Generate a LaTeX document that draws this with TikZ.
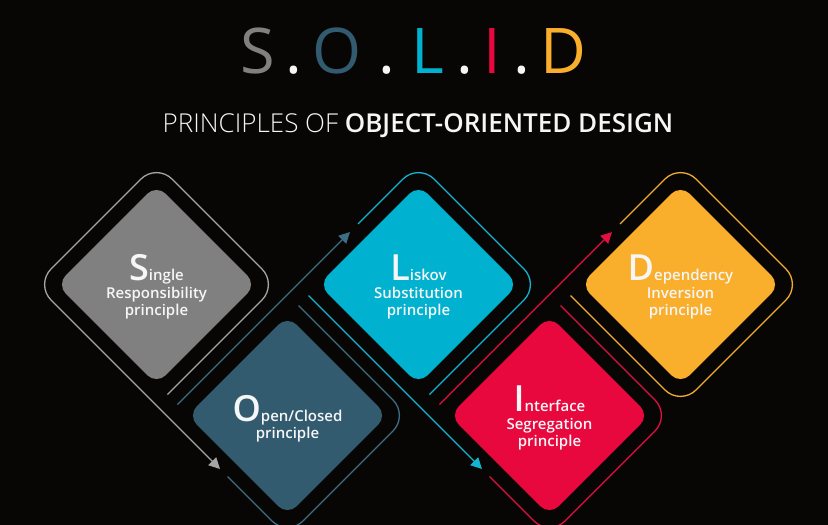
\documentclass[tikz,border=0pt]{standalone}
\usepackage{fontspec}
\setmainfont{Open Sans}
\newfontfamily\oslight{Open Sans Light}
\newfontfamily\ossemi{Open Sans Semibold}
\usetikzlibrary{arrows.meta,calc,shapes.geometric}

% palette
\definecolor{bg}{RGB}{8,5,5}
\definecolor{cS}{RGB}{128,128,128}
\definecolor{cO}{RGB}{50,91,111}
\definecolor{cL}{RGB}{0,178,207}
\definecolor{cI}{RGB}{232,8,62}
\definecolor{cD}{RGB}{249,174,44}
\definecolor{lS}{RGB}{165,165,165}
\definecolor{lO}{RGB}{62,110,132}
\definecolor{lL}{RGB}{20,180,208}
\definecolor{lI}{RGB}{226,16,64}
\definecolor{lD}{RGB}{243,173,45}
\definecolor{ink}{RGB}{246,246,246}

% corner points of the rounded rim around a tile
\newcommand\rimpts[3]{%
  \coordinate (#1-l) at (#2-121,#3);
  \coordinate (#1-t) at (#2,#3-121);
  \coordinate (#1-r) at (#2+121,#3);
  \coordinate (#1-b) at (#2,#3+121);}
\newcommand\initial[1]{{\fontsize{36}{36}\selectfont #1}}

\begin{document}
\begin{tikzpicture}[x=1pt,y=-1pt,
  tile/.style={diamond, aspect=1, minimum width=200pt, minimum height=200pt,
    inner sep=0pt, rounded corners=13pt, draw=none},
  rim/.style={line width=1.3pt, rounded corners=22pt},
  tip/.style={-{Triangle[length=11pt,width=11pt]}},
  word/.style={text=ink, anchor=base, inner sep=0pt,
    font=\ossemi\fontsize{15}{15}\selectfont},
  head/.style={anchor=base, inner sep=0pt, font=\fontsize{63}{63}\selectfont},
]
\fill[bg] (0,0) rectangle (828,525);
\useasboundingbox (0,0) rectangle (828,525);
\clip (0,0) rectangle (828,525);

% title
\node[head, text=cS] (tS) at (258,73) {S};
\node[head, text=ink] (d1) at (294,73) {.};
\node[head, text=cO] (tO) at (337,73) {O};
\node[head, text=ink] (d2) at (387,73) {.};
\node[head, text=cL] (tL) at (428,73) {L};
\node[head, text=ink] (d3) at (465,73) {.};
\node[head, text=cI] (tI) at (492,73) {I};
\node[head, text=ink] (d4) at (522,73) {.};
\node[head, text=cD] (tD) at (563,73) {D};

\node[anchor=base, inner sep=0pt, text=ink, font=\fontsize{26}{26}\selectfont]
  (sub) at (418,132) {{\oslight PRINCIPLES OF} {\ossemi OBJECT-ORIENTED DESIGN}};

% tiles
\node[tile, fill=cS] (S) at (156.5,284.5) {};
\node[tile, fill=cO] (O) at (287.5,415.5) {};
\node[tile, fill=cL] (L) at (418.5,284.5) {};
\node[tile, fill=cI] (I) at (549.5,415.5) {};
\node[tile, fill=cD] (D) at (680.5,284.5) {};

% rims
\rimpts{S}{156.5}{284.5}
\rimpts{O}{287.5}{415.5}
\rimpts{L}{418.5}{284.5}
\rimpts{I}{549.5}{415.5}
\rimpts{D}{680.5}{284.5}
\coordinate (Stip) at ($(O-l)+(53.5,53.5)$);
\coordinate (Otip) at ($(L-l)+(52.5,-52.5)$);
\coordinate (Ltip) at ($(I-l)+(53.5,53.5)$);
\coordinate (Itip) at ($(D-l)+(52.5,-52.5)$);

\draw[rim, lS, tip] ($(S-b)+(11,-11)$) -- (S-r) -- (S-t) -- (S-l) -- (Stip);

\draw[rim, lO] ($(Stip)+(7.5,7.5)$) -- (O-b) -- (O-r) -- ($(O-t)+(11,11)$);
\draw[rim, lO, tip] ($(O-l)+(11,-11)$) -- (Otip);

\draw[rim, lL] ($(Otip)+(8,-8)$) -- (L-t) -- (L-r) -- ($(L-b)+(11,-11)$);
\draw[rim, lL, tip] ($(L-l)+(11,11)$) -- (Ltip);

\draw[rim, lI] ($(Ltip)+(7.5,7.5)$) -- (I-b) -- (I-r) -- ($(I-t)+(11,11)$);
\draw[rim, lI, tip] ($(I-l)+(11,-11)$) -- (Itip);

\draw[rim, lD] ($(Itip)+(8,-8)$) -- (D-t) -- (D-r) -- (D-b) -- ($(D-l)+(11,11)$);

% labels
\node[word] (S1) at (156.5,280.5) {\initial{S}ingle};
\node[word] (S2) at (156.5,298) {Responsibility};
\node[word] (S3) at (156.5,315.5) {principle};

\node[word] (O1) at (287.5,421) {\initial{O}pen/Closed};
\node[word] (O2) at (287.5,438.5) {principle};

\node[word] (L1) at (418.5,280.5) {\initial{L}iskov};
\node[word] (L2) at (418.5,298) {Substitution};
\node[word] (L3) at (418.5,315.5) {principle};

\node[word] (I1) at (549.5,411.5) {\initial{I}nterface};
\node[word] (I2) at (549.5,429) {Segregation};
\node[word] (I3) at (549.5,446.5) {principle};

\node[word] (D1) at (680.5,280.5) {\initial{D}ependency};
\node[word] (D2) at (680.5,298) {Inversion};
\node[word] (D3) at (680.5,315.5) {principle};
\end{tikzpicture}
\end{document}
